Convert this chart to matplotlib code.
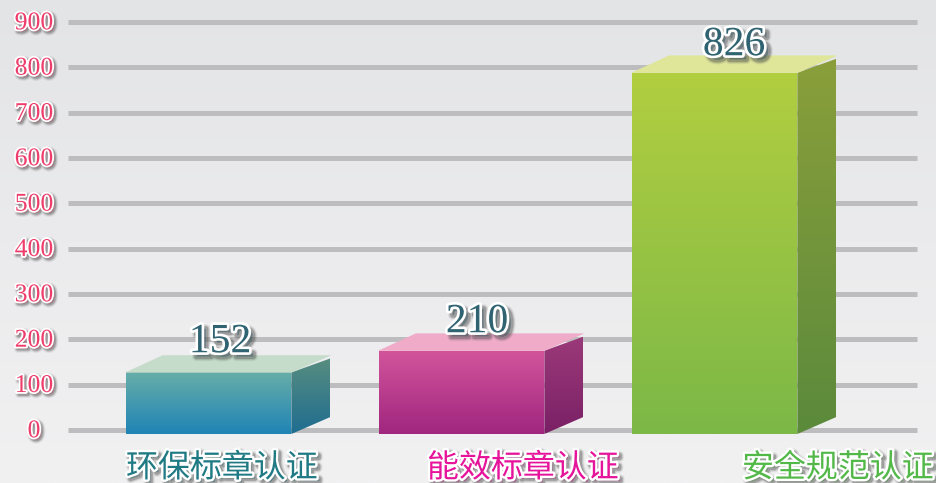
import numpy as np
import matplotlib
matplotlib.use('Agg')
import matplotlib.pyplot as plt
import matplotlib.patheffects as pe
from matplotlib.colors import LinearSegmentedColormap
from matplotlib.patches import Polygon

plt.rcParams['font.family'] = ['Noto Sans CJK SC', 'DejaVu Sans']

categories = ['环保标章认证', '能效标章认证', '安全规范认证']
value_labels = ['152', '210', '826']
# height of the front face on the axis scale
front_tops = [127, 175, 788]
y_ticks = [0, 100, 200, 300, 400, 500, 600, 700, 800, 900]

front_colors = [('#67aea9', '#1f84b5'), ('#d2559b', '#a0267f'), ('#b2ce40', '#7cb847')]
side_colors = [('#578d7f', '#1f6d91'), ('#9b3a7a', '#7b2066'), ('#8a9f3a', '#5b8a3c')]
top_colors = ['#c5dccb', '#efabc8', '#dfe69a']
label_colors = ['#1f7a84', '#e6149a', '#52b848']

W, H = 937, 483
X0, X_STEP = 208.6, 253       # pixel centre of first bar, bar spacing
Y0, Y_SCALE = 430, 408 / 900  # pixel of zero line, pixels per unit


def px_x(p):
    return (p - X0) / X_STEP


def px_y(p):
    return (Y0 - p) / Y_SCALE


def gradient(ax, verts, top, bottom, z):
    cmap = LinearSegmentedColormap.from_list('g', [top, bottom])
    xs = [v[0] for v in verts]
    ys = [v[1] for v in verts]
    im = ax.imshow(np.linspace(0, 1, 256).reshape(-1, 1), cmap=cmap, aspect='auto',
                   extent=(min(xs), max(xs), min(ys), max(ys)), origin='upper', zorder=z)
    clip = Polygon(verts, closed=True, transform=ax.transData, fc='none', ec='none')
    ax.add_patch(clip)
    im.set_clip_path(clip)


def fancy(width, shadow=(2, -2)):
    return [
        pe.Stroke(linewidth=width + 3, foreground='#555555', alpha=0.1, offset=shadow),
        pe.Stroke(linewidth=width + 1.5, foreground='#555555', alpha=0.18, offset=shadow),
        pe.Stroke(linewidth=width, foreground='#444444', alpha=0.3, offset=shadow),
        pe.Stroke(linewidth=width, foreground='white'),
        pe.Normal(),
    ]


fig = plt.figure(figsize=(W / 100, H / 100), dpi=100)
ax = fig.add_axes([0, 0, 1, 1])
ax.axis('off')

x_left, x_right = px_x(0), px_x(W)
y_bottom, y_top = px_y(H), px_y(0)

bg = LinearSegmentedColormap.from_list('bg', ['#e3e4e6', '#ebebed', '#f1f1f2'])
ax.imshow(np.linspace(0, 1, 256).reshape(-1, 1), cmap=bg, aspect='auto',
          extent=(x_left, x_right, y_bottom, y_top), origin='upper', zorder=0)

# grid lines and axis numbers
ax.hlines(y_ticks, px_x(68), px_x(917), color='#bdbdbf', lw=3.6, zorder=1)
for t in y_ticks:
    ax.text(px_x(34), t - 3, str(t), family='Liberation Serif', fontsize=18.5, color='#ef3d6b',
            ha='center', va='center', zorder=6, path_effects=fancy(2.6, (1.5, -1.5)))

bar_w = 165.5 / X_STEP
dx_l, dx_r = 37 / X_STEP, 39 / X_STEP
dy_top, dy_side = 17 / Y_SCALE, 14 / Y_SCALE
base = px_y(434)
side_base = px_y(417)

for i, front in enumerate(front_tops):
    l, r = i - bar_w / 2, i + bar_w / 2
    gradient(ax, [(l, base), (r, base), (r, front), (l, front)],
             front_colors[i][0], front_colors[i][1], 3)
    gradient(ax, [(r, base), (r + dx_r, side_base), (r + dx_r, front + dy_side), (r, front)],
             side_colors[i][0], side_colors[i][1], 3)
    ax.add_patch(Polygon([(l, front), (r, front), (r + dx_r, front + dy_top), (l + dx_l, front + dy_top)],
                         closed=True, fc=top_colors[i], ec=top_colors[i], lw=0.3, zorder=4))

# value labels above the bars
value_px = [(220, 342), (477, 322), (734, 45)]
for lab, (vx, vy) in zip(value_labels, value_px):
    ax.text(px_x(vx), px_y(vy), lab, family='Liberation Serif', fontsize=30, color='#2f6372',
            ha='center', va='center', zorder=7, path_effects=fancy(3.8, (3, -3)))

# category labels
cat_px = [222, 523, 838]
for lab, cx, col in zip(categories, cat_px, label_colors):
    ax.text(px_x(cx), px_y(468), lab, fontsize=23, color=col, ha='center', va='center',
            zorder=7, path_effects=fancy(3.4, (2, -2)))

ax.set_xlim(x_left, x_right)
ax.set_ylim(y_bottom, y_top)

fig.savefig('out.png', dpi=100)
